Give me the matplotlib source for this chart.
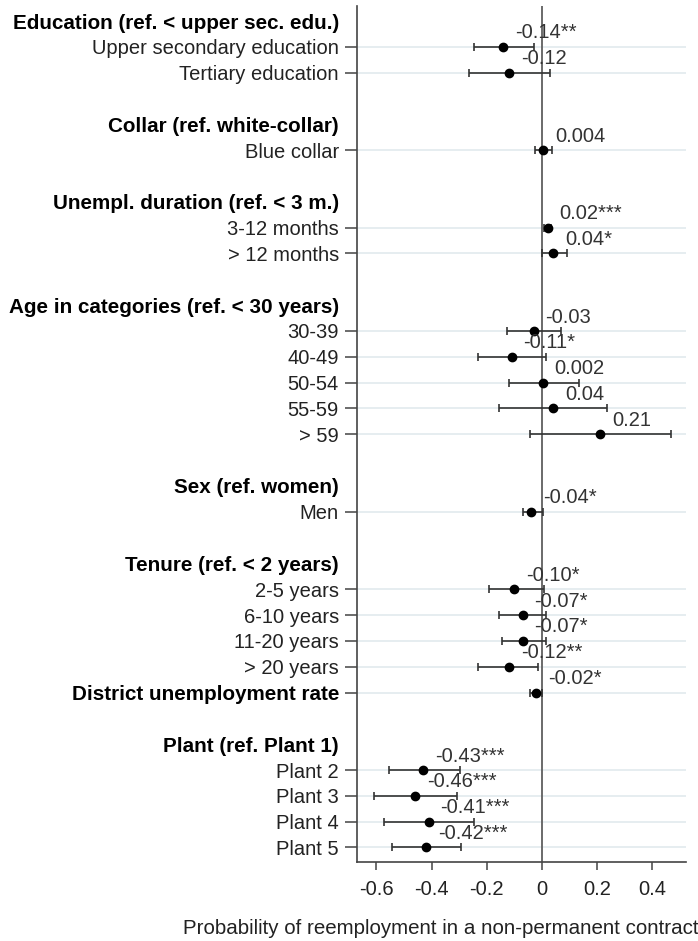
import numpy as np
import matplotlib
matplotlib.use("Agg")
import matplotlib.pyplot as plt

plt.rcParams['font.family'] = ['Liberation Sans', 'DejaVu Sans']

# rows from top to bottom ("" = empty spacer row)
labels = [
    "Education (ref. < upper sec. edu.)", "Upper secondary education", "Tertiary education", "",
    "Collar (ref. white-collar)", "Blue collar", "",
    "Unempl. duration (ref. < 3 m.)", "3-12 months", "> 12 months", "",
    "Age in categories (ref. < 30 years)", "30-39", "40-49", "50-54", "55-59", "> 59", "",
    "Sex (ref. women)", "Men", "",
    "Tenure (ref. < 2 years)", "2-5 years", "6-10 years", "11-20 years", "> 20 years",
    "District unemployment rate", "",
    "Plant (ref. Plant 1)", "Plant 2", "Plant 3", "Plant 4", "Plant 5",
]
headers = [
    "Education (ref. < upper sec. edu.)", "Collar (ref. white-collar)",
    "Unempl. duration (ref. < 3 m.)", "Age in categories (ref. < 30 years)",
    "Sex (ref. women)", "Tenure (ref. < 2 years)", "Plant (ref. Plant 1)",
]
bold_rows = headers + ["District unemployment rate"]

# estimates and 95% CI for the data rows
coef = {
    "Upper secondary education": -0.14, "Tertiary education": -0.12,
    "Blue collar": 0.004,
    "3-12 months": 0.02, "> 12 months": 0.04,
    "30-39": -0.03, "40-49": -0.11, "50-54": 0.002, "55-59": 0.04, "> 59": 0.21,
    "Men": -0.04,
    "2-5 years": -0.10, "6-10 years": -0.07, "11-20 years": -0.07, "> 20 years": -0.12,
    "District unemployment rate": -0.02,
    "Plant 2": -0.43, "Plant 3": -0.46, "Plant 4": -0.41, "Plant 5": -0.42,
}
ci_low = {
    "Upper secondary education": -0.245, "Tertiary education": -0.266,
    "Blue collar": -0.024,
    "3-12 months": 0.008, "> 12 months": 0.0,
    "30-39": -0.127, "40-49": -0.232, "50-54": -0.12, "55-59": -0.157, "> 59": -0.042,
    "Men": -0.068,
    "2-5 years": -0.191, "6-10 years": -0.156, "11-20 years": -0.146, "> 20 years": -0.232,
    "District unemployment rate": -0.045,
    "Plant 2": -0.556, "Plant 3": -0.608, "Plant 4": -0.574, "Plant 5": -0.542,
}
ci_high = {
    "Upper secondary education": -0.029, "Tertiary education": 0.028,
    "Blue collar": 0.035,
    "3-12 months": 0.032, "> 12 months": 0.09,
    "30-39": 0.07, "40-49": 0.015, "50-54": 0.133, "55-59": 0.234, "> 59": 0.466,
    "Men": 0.002,
    "2-5 years": 0.008, "6-10 years": 0.015, "11-20 years": 0.015, "> 20 years": -0.013,
    "District unemployment rate": 0.0,
    "Plant 2": -0.298, "Plant 3": -0.307, "Plant 4": -0.245, "Plant 5": -0.294,
}
coef_text = {
    "Upper secondary education": "-0.14**", "Tertiary education": "-0.12",
    "Blue collar": "0.004",
    "3-12 months": "0.02***", "> 12 months": "0.04*",
    "30-39": "-0.03", "40-49": "-0.11*", "50-54": "0.002", "55-59": "0.04", "> 59": "0.21",
    "Men": "-0.04*",
    "2-5 years": "-0.10*", "6-10 years": "-0.07*", "11-20 years": "-0.07*", "> 20 years": "-0.12**",
    "District unemployment rate": "-0.02*",
    "Plant 2": "-0.43***", "Plant 3": "-0.46***", "Plant 4": "-0.41***", "Plant 5": "-0.42***",
}
x_ticks = [-0.6, -0.4, -0.2, 0, 0.2, 0.4]
x_ticklabels = ["-0.6", "-0.4", "-0.2", "0", "0.2", "0.4"]

fig = plt.figure(figsize=(6.98, 9.41), dpi=100)
ax = fig.add_axes([0.5115, 0.084, 0.4715, 0.9096])

fs = 14.5
txt_col = '#222222'

ypos = {lab: i for i, lab in enumerate(labels) if lab != ""}
data_rows = [lab for lab in labels if lab in coef]

y = np.array([ypos[r] for r in data_rows])
est = np.array([coef[r] for r in data_rows])
lo = np.array([ci_low[r] for r in data_rows])
hi = np.array([ci_high[r] for r in data_rows])

ax.axvline(0, color='#5f5f5f', lw=1.3, zorder=2)
ax.errorbar(est, y, xerr=[est - lo, hi - est], fmt='o', color='black',
            ecolor='#333333', elinewidth=1.2, capsize=2.7, capthick=1.2,
            markersize=6, zorder=4)

# coefficient labels above-right of each point
for r in data_rows:
    ax.annotate(coef_text[r], (coef[r], ypos[r]), xytext=(8.5, 10),
                textcoords='offset points', ha='left', va='center',
                fontsize=fs, color='#333333', zorder=5)

tick_rows = [lab for lab in labels if lab != ""]
ax.set_yticks([ypos[r] for r in tick_rows])
ax.set_yticklabels(tick_rows, fontsize=fs, color=txt_col)
ax.grid(axis='y', color='#e2eaed', lw=1.2, zorder=0)
ax.set_axisbelow(True)
for tick, lab in zip(ax.yaxis.get_major_ticks(), tick_rows):
    if lab in bold_rows:
        tick.label1.set_fontweight('bold')
        tick.label1.set_fontsize(14.9)
        tick.label1.set_color('black')
    if lab in headers:
        tick.tick1line.set_visible(False)
        tick.gridline.set_visible(False)

ax.set_xticks(x_ticks)
ax.set_xticklabels(x_ticklabels, fontsize=fs, color=txt_col)
ax.tick_params(axis='y', length=9, width=1.1, color='#444444', pad=4)
ax.tick_params(axis='x', length=6, width=1.1, color='#444444', pad=7)

ax.set_xlim(-0.67, 0.522)
ax.set_ylim(32.56, -0.58)

for s in ['top', 'right']:
    ax.spines[s].set_visible(False)
for s in ['left', 'bottom']:
    ax.spines[s].set_color('#444444')
    ax.spines[s].set_linewidth(1.2)

fig.text(0.632, 0.0138, "Probability of reemployment in a non-permanent contract",
         ha='center', va='center', fontsize=14.8, color=txt_col)

fig.savefig("out.png", dpi=100)
